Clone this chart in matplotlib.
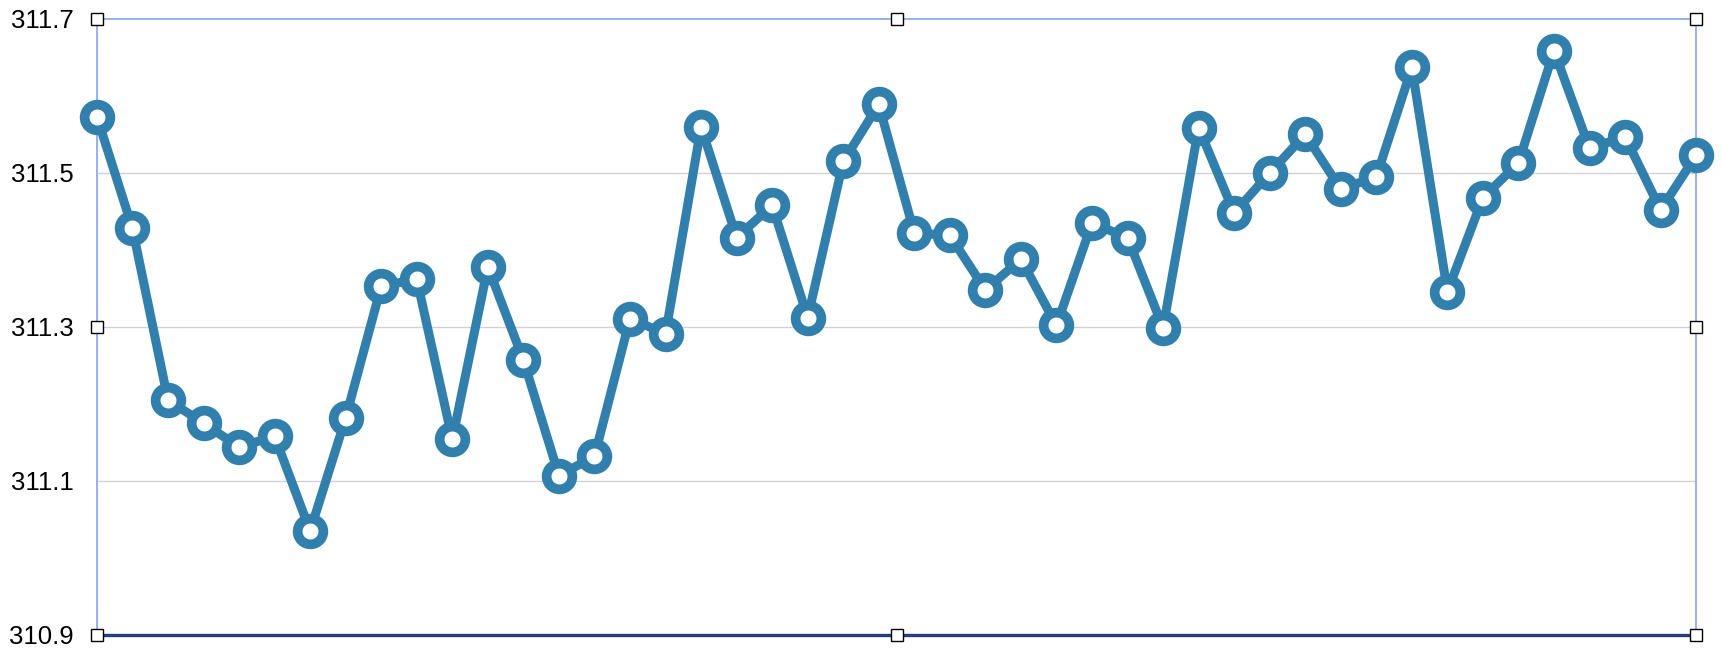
import matplotlib
matplotlib.use("Agg")
import matplotlib.pyplot as plt

# values
values = [311.573, 311.428, 311.205, 311.175, 311.144, 311.158, 311.035, 311.182,
          311.353, 311.362, 311.154, 311.378, 311.257, 311.107, 311.132, 311.311,
          311.291, 311.560, 311.416, 311.458, 311.312, 311.515, 311.589, 311.422,
          311.419, 311.348, 311.388, 311.302, 311.435, 311.416, 311.299, 311.559,
          311.448, 311.500, 311.550, 311.479, 311.495, 311.637, 311.346, 311.468,
          311.513, 311.659, 311.532, 311.547, 311.452, 311.523]
y_ticks = [310.9, 311.1, 311.3, 311.5, 311.7]
y_labels = ["310.9", "311.1", "311.3", "311.5", "311.7"]

plt.rcParams['font.family'] = ['Liberation Sans', 'DejaVu Sans']

fig = plt.figure(figsize=(17.22, 6.48), dpi=100)
ax = fig.add_axes([0.0563, 0.0201, 0.985 - 0.0563, 0.9707 - 0.0201])

x = list(range(len(values)))
ax.plot(x, values, color='#317fad', linewidth=6.5, marker='o',
        markersize=18.5, markeredgewidth=7, markerfacecolor='white',
        markeredgecolor='#317fad', clip_on=False, zorder=3)

ax.set_xlim(0, len(values) - 1)
ax.set_ylim(310.9, 311.7)
ax.set_yticks(y_ticks)
ax.set_yticklabels(y_labels, fontsize=18.5)
ax.set_xticks([])
ax.tick_params(axis='y', length=0, pad=17)

# light horizontal grid
for t in y_ticks[1:-1]:
    ax.axhline(t, color='#d2d2d2', linewidth=1, zorder=1)

# selection-box style frame
for side in ['left', 'right', 'top']:
    ax.spines[side].set_color('#8eaaf2')
    ax.spines[side].set_linewidth(1.3)
ax.spines['bottom'].set_color('#263f7c')
ax.spines['bottom'].set_linewidth(2.4)

# resize handles
hx = [0, 0.5, 1, 0, 1, 0, 0.5, 1]
hy = [1, 1, 1, 0.5, 0.5, 0, 0, 0]
ax.plot(hx, hy, linestyle='none', marker='s', markersize=9,
        markerfacecolor='white', markeredgecolor='black',
        markeredgewidth=1, transform=ax.transAxes, clip_on=False, zorder=5)

fig.savefig('out.png', dpi=100)
